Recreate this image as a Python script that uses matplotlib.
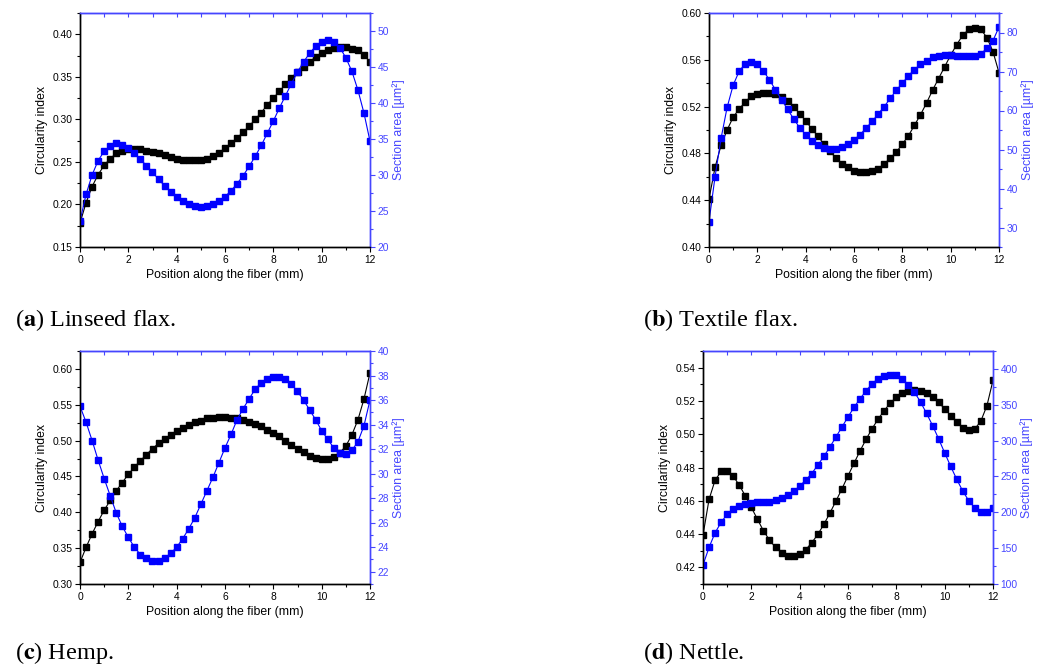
import numpy as np
import matplotlib
matplotlib.use("Agg")
import matplotlib.pyplot as plt
from matplotlib.ticker import MultipleLocator

plt.rcParams['font.family'] = ['Liberation Sans', 'DejaVu Sans']

# position along the fiber, 0.25 mm steps
pos = np.arange(0, 12.01, 0.25)

# (a) linseed flax
linseed_circ = [0.178, 0.202, 0.221, 0.235, 0.246, 0.254, 0.260, 0.263, 0.265, 0.265,
                0.265, 0.263, 0.262, 0.260, 0.258, 0.256, 0.254, 0.252, 0.252, 0.252,
                0.252, 0.254, 0.257, 0.261, 0.266, 0.272, 0.278, 0.285, 0.292, 0.300,
                0.308, 0.317, 0.325, 0.333, 0.341, 0.349, 0.356, 0.362, 0.368, 0.373,
                0.378, 0.381, 0.384, 0.385, 0.385, 0.383, 0.381, 0.376, 0.367]
linseed_area = [23.6, 27.3, 30.0, 32.0, 33.3, 34.0, 34.4, 34.2, 33.7, 33.0,
                32.2, 31.3, 30.4, 29.4, 28.5, 27.7, 27.0, 26.4, 26.0, 25.7,
                25.6, 25.7, 26.0, 26.4, 27.0, 27.8, 28.8, 29.9, 31.2, 32.6,
                34.1, 35.8, 37.5, 39.3, 41.0, 42.7, 44.3, 45.7, 46.9, 47.9,
                48.5, 48.7, 48.5, 47.7, 46.3, 44.4, 41.8, 38.6, 34.7]

# (b) textile flax
textile_circ = [0.441, 0.468, 0.487, 0.500, 0.511, 0.518, 0.524, 0.529, 0.531, 0.532,
                0.532, 0.531, 0.528, 0.525, 0.520, 0.514, 0.508, 0.501, 0.495, 0.488,
                0.482, 0.476, 0.471, 0.468, 0.465, 0.464, 0.464, 0.465, 0.467, 0.471,
                0.476, 0.481, 0.488, 0.495, 0.504, 0.513, 0.523, 0.534, 0.544, 0.554,
                0.564, 0.573, 0.581, 0.586, 0.587, 0.586, 0.579, 0.567, 0.549]
textile_area = [31.5, 43.0, 52.9, 60.8, 66.5, 70.1, 72.0, 72.5, 71.8, 70.1,
                67.9, 65.3, 62.8, 60.3, 57.9, 55.6, 53.8, 52.3, 51.2, 50.5,
                50.1, 50.2, 50.7, 51.4, 52.5, 53.8, 55.5, 57.2, 59.1, 61.0,
                63.1, 65.2, 67.0, 68.9, 70.5, 71.8, 72.8, 73.6, 74.0, 74.3,
                74.3, 74.1, 73.9, 73.9, 74.1, 74.6, 75.9, 77.9, 81.4]

# (c) hemp
hemp_circ = [0.330, 0.351, 0.370, 0.387, 0.403, 0.4165, 0.430, 0.4415, 0.453, 0.463,
             0.472, 0.4805, 0.489, 0.496, 0.502, 0.508, 0.514, 0.518, 0.522, 0.526,
             0.528, 0.531, 0.532, 0.533, 0.533, 0.532, 0.531, 0.529, 0.5265, 0.523,
             0.520, 0.515, 0.511, 0.506, 0.500, 0.494, 0.489, 0.484, 0.479, 0.476,
             0.474, 0.474, 0.477, 0.483, 0.4925, 0.508, 0.529, 0.558, 0.5945]
hemp_area = [35.5, 34.2, 32.7, 31.1, 29.6, 28.2, 26.8, 25.7, 24.8, 24.0,
             23.4, 23.1, 22.9, 22.9, 23.1, 23.5, 24.0, 24.7, 25.5, 26.4,
             27.5, 28.6, 29.7, 30.9, 32.1, 33.2, 34.4, 35.3, 36.1, 36.9,
             37.4, 37.7, 37.9, 37.9, 37.7, 37.3, 36.7, 36.0, 35.2, 34.4,
             33.5, 32.8, 32.1, 31.7, 31.6, 31.9, 32.6, 33.9, 36.0]

# (d) nettle
nettle_circ = [0.4394, 0.4608, 0.4724, 0.4776, 0.4776, 0.4748, 0.4694, 0.463, 0.456, 0.449,
               0.442, 0.4364, 0.432, 0.4288, 0.427, 0.4268, 0.4278, 0.4306, 0.4348, 0.4398,
               0.4458, 0.4526, 0.4598, 0.4672, 0.475, 0.4826, 0.490, 0.497, 0.5034, 0.5092,
               0.5142, 0.5188, 0.5222, 0.5248, 0.5262, 0.5264, 0.5262, 0.5248, 0.5222, 0.5192,
               0.5152, 0.5112, 0.5072, 0.504, 0.5024, 0.5032, 0.508, 0.5172, 0.5324]
nettle_area = [126.5, 151, 171.5, 186, 197.5, 204.5, 209, 211.5, 213, 214,
               214, 215, 217, 219.5, 224, 229.5, 236.5, 245, 254, 266,
               278, 291, 305, 319, 333, 346.5, 358.5, 369.5, 379.5, 386.5,
               390, 392, 391, 386, 378, 367.5, 354, 338, 321, 302.5,
               283, 264, 246, 229.5, 216, 206, 200, 200, 206.5]

W, H = 1041, 668
fig = plt.figure(figsize=(W / 100, H / 100), dpi=100)

BLUE = '#0000ff'
BLUE_AX = '#4646ff'


def panel(box, circ, area, ylim1, ymaj1, ylim2, ymaj2):
    l, t, r, b = box
    ax = fig.add_axes([l / W, 1 - b / H, (r - l) / W, (b - t) / H])
    ax2 = ax.twinx()

    ax.plot(pos, circ, color='black', marker='s', ms=3.9, lw=0.8)
    ax2.plot(pos, area, color=BLUE, marker='s', ms=3.9, lw=0.8)

    ax.set_xlim(0, 12)
    ax.set_ylim(*ylim1)
    ax2.set_ylim(*ylim2)
    ax.xaxis.set_major_locator(MultipleLocator(2))
    ax.xaxis.set_minor_locator(MultipleLocator(1))
    ax.yaxis.set_major_locator(MultipleLocator(ymaj1))
    ax.yaxis.set_minor_locator(MultipleLocator(ymaj1 / 2))
    ax2.yaxis.set_major_locator(MultipleLocator(ymaj2))
    ax2.yaxis.set_minor_locator(MultipleLocator(ymaj2 / 2))
    ax.yaxis.set_major_formatter(plt.FormatStrFormatter('%.2f'))

    ax.tick_params(axis='both', which='major', direction='out', length=3.5,
                   width=0.8, labelsize=7.4, pad=2)
    ax.tick_params(axis='both', which='minor', direction='out', length=2, width=0.8)
    ax.tick_params(axis='x', which='both', top=False)
    ax2.tick_params(axis='y', which='major', direction='out', length=3.5, width=0.8,
                    colors=BLUE_AX, labelsize=7.4, pad=2)
    ax2.tick_params(axis='y', which='minor', direction='out', length=2, width=0.8,
                    colors=BLUE_AX)

    # top ticks pointing inward, in blue like the right frame
    sec = ax.secondary_xaxis('top')
    sec.xaxis.set_major_locator(MultipleLocator(2))
    sec.xaxis.set_minor_locator(MultipleLocator(1))
    sec.tick_params(which='both', direction='in', length=3, width=0.8,
                    colors=BLUE_AX, labeltop=False)
    sec.spines['top'].set_color(BLUE_AX)

    for a in (ax, ax2):
        a.spines['top'].set_color(BLUE_AX)
        a.spines['right'].set_color(BLUE_AX)
        a.spines['left'].set_color('black')
        for s in a.spines.values():
            s.set_linewidth(1.0)

    ax.set_xlabel('Position along the fiber (mm)', fontsize=8.8, labelpad=3)
    ax.set_ylabel('Circularity index', fontsize=8.8, labelpad=3)
    ax2.set_ylabel('Section area [µm²]', fontsize=8.8, color=BLUE_AX, labelpad=2)
    return ax


panel((80, 13, 370, 247), linseed_circ, linseed_area,
      (0.15, 0.425), 0.05, (20, 52.5), 5)
panel((709, 13, 999, 247), textile_circ, textile_area,
      (0.40, 0.60), 0.04, (25, 85), 10)
panel((80, 351, 370, 584), hemp_circ, hemp_area,
      (0.30, 0.625), 0.05, (21, 40), 2)
panel((703, 351, 993, 584), nettle_circ, nettle_area,
      (0.41, 0.55), 0.02, (100, 425), 50)

serif = ['Liberation Serif', 'DejaVu Serif']
captions = [
    (15, 320, 'a', 'Linseed flax.'),
    (643, 320, 'b', 'Textile flax.'),
    (15, 653, 'c', 'Hemp.'),
    (643, 653, 'd', 'Nettle.'),
]
for x, y, letter, name in captions:
    fig.text(x / W, 1 - y / H, f'($\\mathbf{{{letter}}}$) {name}', fontsize=17.5,
             family=serif, va='center', ha='left', math_fontfamily='stix')

fig.savefig('out.png', dpi=100)
